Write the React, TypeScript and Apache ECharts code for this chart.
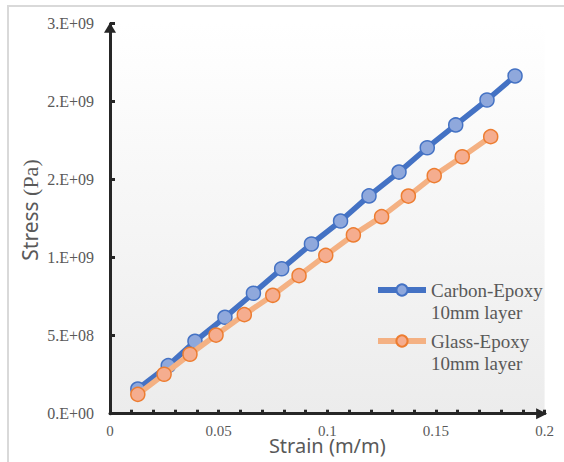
import React, { useEffect, useRef } from "react";
import * as echarts from "echarts";

const seriesNames = ["Carbon-Epoxy 10mm layer", "Glass-Epoxy 10mm layer"];

const carbonStrain = [0.0128, 0.0268, 0.0391, 0.0529, 0.066, 0.079, 0.0927, 0.1061, 0.1192, 0.133, 0.146, 0.1591, 0.1735, 0.1864];
const carbonStress = [1.58e8, 3.08e8, 4.64e8, 6.18e8, 7.72e8, 9.29e8, 1.088e9, 1.235e9, 1.396e9, 1.549e9, 1.705e9, 1.851e9, 2.011e9, 2.165e9];

const glassStrain = [0.0128, 0.0249, 0.0368, 0.0488, 0.0618, 0.0749, 0.087, 0.0993, 0.112, 0.125, 0.1373, 0.1492, 0.1621, 0.1752];
const glassStress = [1.24e8, 2.53e8, 3.81e8, 5.04e8, 6.35e8, 7.59e8, 8.85e8, 1.015e9, 1.146e9, 1.263e9, 1.395e9, 1.526e9, 1.647e9, 1.776e9];

const xAxisMin = 0;
const xAxisMax = 0.2;
const xAxisStep = 0.05;
const yAxisMin = 0;
const yAxisMax = 2.5e9;
const yAxisStep = 5e8;

const xTitle = "Strain (m/m)";
const yTitleA = "Stress ";
const yTitleB = "(Pa)";

function sci(v: number): string {
  if (v === 0) return "0.E+00";
  const [m, e] = v.toExponential(0).split("e");
  const ex = parseInt(e, 10);
  return m + ".E" + (ex < 0 ? "-" : "+") + String(Math.abs(ex)).padStart(2, "0");
}

const zip = (xs: number[], ys: number[]) => xs.map((x, i) => [x, ys[i]]);

const AXIS = "#262626";
const TEXT = "#595959";
const SERIF = "'Liberation Serif', 'Times New Roman', serif";
const SANS = "'Noto Sans', sans-serif";

export default function App() {
  const ref = useRef<HTMLDivElement>(null);
  useEffect(() => {
    document.body.style.margin = "0";
    const chart = echarts.init(ref.current!, undefined, { renderer: "svg" });
    const legendCommon = {
      orient: "vertical",
      itemWidth: 48,
      itemHeight: 14,
      itemGap: 0,
      padding: 0,
      lineStyle: { width: 6 },
      formatter: (n: string) => "\n" + n.replace(" 10mm", "\n10mm"),
      textStyle: {
        fontFamily: SERIF,
        fontSize: 19,
        color: TEXT,
        lineHeight: 22,
      },
    };
    chart.setOption({
      animation: false,
      backgroundColor: "#ffffff",
      grid: {
        left: 110,
        right: 19.4,
        top: 23.7,
        bottom: 48.3,
        outerBoundsMode: "none",
        containLabel: false,
        show: true,
        borderWidth: 0,
        backgroundColor: new echarts.graphic.LinearGradient(0, 0, 0, 1, [
          { offset: 0, color: "#ffffff" },
          { offset: 1, color: "#ececec" },
        ]),
      },
      graphic: [
        {
          type: "rect",
          shape: { x: 8, y: 6, width: 700, height: 600 },
          style: { fill: "none", stroke: "#d9d9d9", lineWidth: 2 },
          silent: true,
        },
        {
          type: "text",
          x: 30,
          y: 210,
          rotation: Math.PI / 2,
          style: {
            text: "{a|" + yTitleA + "}{b|" + yTitleB + "}",
            align: "center",
            verticalAlign: "middle",
            rich: {
              a: { fontFamily: SANS, fontSize: 21, fill: TEXT, font: "21px 'Noto Sans'" },
              b: { fontFamily: SERIF, fontSize: 22, fill: TEXT, font: "22px 'Liberation Serif'" },
            },
          },
        },
      ],
      legend: [
        { ...legendCommon, data: [seriesNames[0]], left: 375, top: 257 },
        { ...legendCommon, data: [seriesNames[1]], left: 375, top: 308 },
      ],
      xAxis: {
        type: "value",
        min: xAxisMin,
        max: xAxisMax,
        interval: xAxisStep,
        name: xTitle,
        nameLocation: "middle",
        nameGap: 22,
        nameMoveOverlap: false,
        nameTextStyle: { fontFamily: SANS, fontSize: 20, color: TEXT },
        splitLine: { show: false },
        axisLine: {
          lineStyle: { color: AXIS, width: 3 },
          symbol: ["none", "triangle"],
          symbolSize: [11, 11],
          symbolOffset: [0, -3],
        },
        axisTick: { show: true, inside: true, length: 4, lineStyle: { color: AXIS, width: 3 } },
        minorTick: { show: true, splitNumber: 5, length: 4, lineStyle: { color: AXIS, width: 3 } },
        axisLabel: {
          fontFamily: SERIF,
          fontSize: 15,
          color: TEXT,
          margin: 10,
          formatter: (v: number) => String(+v.toFixed(2)),
        },
      },
      yAxis: {
        type: "value",
        min: yAxisMin,
        max: yAxisMax,
        interval: yAxisStep,
        splitLine: { show: false },
        axisLine: {
          lineStyle: { color: AXIS, width: 3 },
          symbol: ["none", "triangle"],
          symbolSize: [12, 10],
          symbolOffset: [0, -4],
        },
        axisTick: { show: true, inside: true, length: 5, lineStyle: { color: AXIS, width: 3 } },
        axisLabel: {
          fontFamily: SERIF,
          fontSize: 16,
          color: TEXT,
          margin: 16,
          formatter: (v: number) => sci(v),
        },
      },
      series: [
        {
          name: seriesNames[0],
          type: "line",
          data: zip(carbonStrain, carbonStress),
          symbol: "circle",
          symbolSize: 14,
          lineStyle: { color: "#4472C4", width: 5.5 },
          itemStyle: { color: "#8FA8DC", borderColor: "#4472C4", borderWidth: 1.5 },
          z: 2,
        },
        {
          name: seriesNames[1],
          type: "line",
          data: zip(glassStrain, glassStress),
          symbol: "circle",
          symbolSize: 14,
          lineStyle: { color: "#F4B183", width: 5.5 },
          itemStyle: { color: "#F5AD8F", borderColor: "#ED7D31", borderWidth: 1.5 },
          z: 3,
        },
      ],
    });
    return () => chart.dispose();
  }, []);
  return <div ref={ref} style={{ width: 564, height: 462 }} />;
}
